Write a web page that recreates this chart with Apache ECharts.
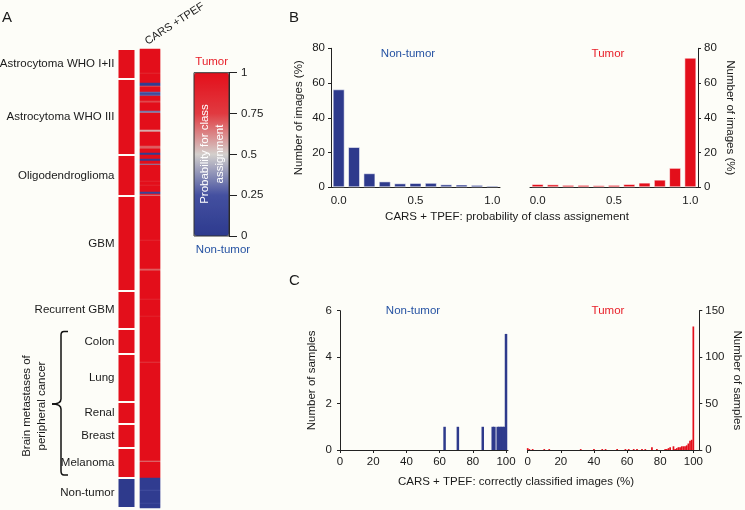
<!DOCTYPE html>
<html><head><meta charset="utf-8">
<script src="https://cdn.jsdelivr.net/npm/echarts@6/dist/echarts.min.js"></script>
<style>html,body{margin:0;padding:0;background:#fdfdf8;}#c{width:745px;height:510px;}</style>
</head><body><div id="c"></div>
<script>
// ---------- DATA ----------
const groupNames = ['Astrocytoma WHO I+II','Astrocytoma WHO III','Oligodendroglioma','GBM','Recurrent GBM','Colon','Lung','Renal','Breast','Melanoma','Non-tumor'];
const groupCounts = [30,76,41,95,38,25,48,22,24,30,30];
const groupIsTumor = [1,1,1,1,1,1,1,1,1,1,0];
// CARS+TPEF probability per image row: default 1 (tumor) / 0.03 (non-tumor), with these exceptions [row, probability]
const col2Exceptions = [[24,0.85],[34,0.06],[35,0.04],[36,0.06],[37,0.72],[43,0.3],[44,0.2],[45,0.22],[46,0.3],[52,0.72],[53,0.76],[62,0.32],[63,0.38],[81,0.55],[82,0.58],[97,0.7],[98,0.68],[99,0.72],[104,0.05],[105,0.05],[110,0.08],[111,0.06],[115,0.36],[132,0.86],[136,0.86],[143,0.12],[144,0.15],[146,0.62],[191,0.86],[220,0.68],[221,0.72],[250,0.86],[267,0.88],[313,0.76],[412,0.64],[441,0.22],[454,0.18]];
const probBins = ['0.0','0.1','0.2','0.3','0.4','0.5','0.6','0.7','0.8','0.9','1.0'];
const nonTumorB = [56.4,23.2,8.1,3.4,2.3,2.5,2.6,1.7,1.6,1.4,1.0];
const tumorB = [1.9,1.7,1.4,1.4,1.2,1.4,1.9,2.7,4.4,11.2,74.6];
const nonTumorC = [[63,1],[71,1],[86,1],[92,1],[93,1],[95,1],[96,1],[97,1],[98,1],[99,1],[100,5]];
const tumorC = [[0,2],[1,1],[3,1],[10,1],[13,1],[32,1],[40,1],[45,1],[47,1],[54,1],[59,1],[61,1],[64,1],[66,1],[69,1],[71,1],[75,3],[78,1],[83,1],[84,1],[85,2],[86,3],[88,4],[89,1],[90,2],[91,3],[92,3],[93,4],[94,4],[95,4],[96,5],[97,7],[98,10],[99,11],[100,133]];
const pctTicks = [0,20,40,60,80,100];

// ---------- BUILD ----------
const FONT = 'Liberation Sans, Arial, Helvetica, sans-serif';
const RED = '#e30f1b', BLUE = '#2e3a8c', BG = '#fdfdf8', INK = '#1a1a1a';
const TXT_BLUE = '#2653a3', TXT_RED = '#e8202a';

const exMap = {};
col2Exceptions.forEach(e => exMap[e[0]] = e[1]);
const rows = [], heat = [];
let r = 0;
groupCounts.forEach((n, g) => {
  for (let i = 0; i < n; i++) {
    rows.push(String(r));
    const def = groupIsTumor[g] ? 1 : 0.03;
    heat.push([0, r, exMap[r] !== undefined ? exMap[r] : def]);
    r++;
  }
});
const total = r;

const axisLineStyle = {show: true, onZero: false, lineStyle: {color: '#222', width: 1}};
const lbl = {fontFamily: FONT, fontSize: 11.5, color: INK};

const grids = [
  {left: 117.5, top: 49, width: 18, height: 459},          // 0 col1
  {left: 140, top: 49, width: 20, height: 459},            // 1 col2 heatmap
  {left: 194, top: 72.7, width: 35, height: 163.3, show: true, borderColor: '#333', borderWidth: 1, backgroundColor: 'transparent', z: 10}, // 2 colorbar axis
  {left: 331, top: 48.3, width: 169, height: 139},         // 3 B left
  {left: 530, top: 48.3, width: 168, height: 139},         // 4 B right
  {left: 340, top: 310.7, width: 168, height: 139.3},      // 5 C left
  {left: 527.7, top: 310.7, width: 171.6, height: 139.3}   // 6 C right
];

const xAxes = [
  {gridIndex: 0, type: 'category', data: [''], show: false},
  {gridIndex: 1, type: 'category', data: ['CARS +TPEF'], show: false},
  {gridIndex: 2, type: 'value', min: 0, max: 1, show: false},
  {gridIndex: 3, type: 'category', data: probBins, axisLine: axisLineStyle, axisTick: {show: false},
    axisLabel: Object.assign({interval: (i) => i % 5 === 0, margin: 8}, lbl)},
  {gridIndex: 4, type: 'category', data: probBins, axisLine: axisLineStyle, axisTick: {show: false},
    axisLabel: Object.assign({interval: (i) => i % 5 === 0, margin: 8}, lbl)},
  {gridIndex: 5, type: 'value', min: 0, max: 101.2, axisLine: axisLineStyle, splitLine: {show: false},
    axisTick: {show: true, length: 3, customValues: pctTicks, lineStyle: {color: '#222'}},
    axisLabel: Object.assign({customValues: pctTicks, margin: 6}, lbl)},
  {gridIndex: 6, type: 'value', min: 0, max: 103.6, axisLine: axisLineStyle, splitLine: {show: false},
    axisTick: {show: true, length: 3, customValues: pctTicks, lineStyle: {color: '#222'}},
    axisLabel: Object.assign({customValues: pctTicks, margin: 6}, lbl)}
];

const nameStyle = {fontFamily: FONT, fontSize: 11.5, color: INK};
const yAxes = [
  {gridIndex: 0, type: 'value', min: 0, max: total, inverse: true, show: false},
  {gridIndex: 1, type: 'category', data: rows, inverse: true, show: false},
  {gridIndex: 2, type: 'value', min: 0, max: 1, interval: 0.25, position: 'right', axisLine: axisLineStyle,
    splitLine: {show: false}, axisTick: {show: true, length: 8, lineStyle: {color: '#222'}},
    axisLabel: Object.assign({margin: 12}, lbl)},
  {gridIndex: 3, type: 'value', min: 0, max: 80, interval: 20, axisLine: axisLineStyle, splitLine: {show: false},
    axisTick: {show: true, length: 3, lineStyle: {color: '#222'}}, axisLabel: Object.assign({margin: 6}, lbl),
    name: 'Number of images (%)', nameLocation: 'middle', nameRotate: 90, nameGap: 26, nameTextStyle: nameStyle},
  {gridIndex: 4, type: 'value', min: 0, max: 80, interval: 20, position: 'right', axisLine: axisLineStyle, splitLine: {show: false},
    axisTick: {show: true, length: 3, lineStyle: {color: '#222'}}, axisLabel: Object.assign({margin: 6}, lbl),
    name: 'Number of images (%)', nameLocation: 'middle', nameRotate: -90, nameGap: 26, nameTextStyle: nameStyle},
  {gridIndex: 5, type: 'value', min: 0, max: 6, interval: 2, axisLine: axisLineStyle, splitLine: {show: false},
    axisTick: {show: true, length: 3, lineStyle: {color: '#222'}}, axisLabel: Object.assign({margin: 8}, lbl),
    name: 'Number of samples', nameLocation: 'middle', nameRotate: 90, nameGap: 22, nameTextStyle: nameStyle},
  {gridIndex: 6, type: 'value', min: 0, max: 150, interval: 50, position: 'right', axisLine: axisLineStyle, splitLine: {show: false},
    axisTick: {show: true, length: 3, lineStyle: {color: '#222'}}, axisLabel: Object.assign({margin: 6}, lbl),
    name: 'Number of samples', nameLocation: 'middle', nameRotate: -90, nameGap: 32, nameTextStyle: nameStyle}
];

const series = [];
groupNames.forEach((name, g) => {
  series.push({
    type: 'bar', name: name, stack: 'groups', xAxisIndex: 0, yAxisIndex: 0, barWidth: '100%',
    data: [groupCounts[g]], silent: true,
    itemStyle: {color: groupIsTumor[g] ? RED : BLUE, borderColor: BG, borderWidth: 1},
    label: {show: true, position: 'left', distance: 3, formatter: '{a}', fontFamily: FONT, fontSize: 11.5, color: INK}
  });
});
const heatIndex = series.length;
series.push({type: 'heatmap', xAxisIndex: 1, yAxisIndex: 1, data: heat, silent: true, itemStyle: {borderWidth: 0}});
series.push({type: 'line', xAxisIndex: 2, yAxisIndex: 2, data: [], silent: true});
const barEdge = {borderColor: 'rgba(255,255,255,0.55)', borderWidth: 1};
series.push({type: 'bar', xAxisIndex: 3, yAxisIndex: 3, data: nonTumorB, barWidth: 12, silent: true, itemStyle: Object.assign({color: BLUE}, barEdge)});
series.push({type: 'bar', xAxisIndex: 4, yAxisIndex: 4, data: tumorB, barWidth: 12, silent: true, itemStyle: Object.assign({color: RED}, barEdge)});
series.push({type: 'bar', xAxisIndex: 5, yAxisIndex: 5, data: nonTumorC, barWidth: 2.5, silent: true, itemStyle: {color: BLUE}});
series.push({type: 'bar', xAxisIndex: 6, yAxisIndex: 6, data: tumorC, barWidth: 1.7, silent: true, itemStyle: {color: RED}});

const T = (text, x, y, extra) => ({type: 'text', x: x, y: y, z: 100, silent: true,
  style: Object.assign({text: text, fontFamily: FONT, fontSize: 11.5, fill: INK, textAlign: 'center', textVerticalAlign: 'middle'}, extra || {})});
const braceStyle = {stroke: '#111', lineWidth: 1.5, fill: 'none'};
const L = (x1, y1, x2, y2) => ({type: 'line', z: 100, silent: true, shape: {x1, y1, x2, y2}, style: braceStyle});
const Q = (x1, y1, cx, cy, x2, y2) => ({type: 'bezierCurve', z: 100, silent: true, shape: {x1, y1, cpx1: cx, cpy1: cy, x2, y2}, style: braceStyle});

const graphic = [
  T('A', 2, 18, {fontSize: 15, textAlign: 'left'}),
  T('B', 289, 18, {fontSize: 15, textAlign: 'left'}),
  T('C', 289, 281, {fontSize: 15, textAlign: 'left'}),
  Object.assign(T('CARS +TPEF', 149, 47, {textAlign: 'left', textVerticalAlign: 'bottom', fontSize: 11}), {rotation: 33 * Math.PI / 180}),
  T('Tumor', 211.7, 61.7, {fill: TXT_RED}),
  T('Non-tumor', 223, 250, {fill: TXT_BLUE}),
  Object.assign(T('Probability for class\nassignment', 212.5, 154, {fill: '#ffffff', lineHeight: 15}), {rotation: Math.PI / 2}),
  Object.assign(T('Brain metastases of\nperipheral cancer', 34.5, 406, {lineHeight: 15}), {rotation: Math.PI / 2}),
  L(68, 331.5, 64, 331.5), Q(64, 331.5, 61, 331.5, 61, 335), L(61, 335, 61, 399),
  Q(61, 399, 61, 404, 52, 404), Q(52, 404, 61, 404, 61, 409), L(61, 409, 61, 471),
  Q(61, 471, 61, 475, 64, 475), L(64, 475, 68, 475),
  T('Non-tumor', 408, 54, {fill: TXT_BLUE}),
  T('Tumor', 608, 54, {fill: TXT_RED}),
  T('CARS + TPEF: probability of class assignement', 507, 217),
  T('Non-tumor', 413, 311, {fill: TXT_BLUE}),
  T('Tumor', 608, 311, {fill: TXT_RED}),
  T('CARS + TPEF: correctly classified images (%)', 516, 482)
];

const chart = echarts.init(document.getElementById('c'), null, {renderer: 'canvas'});
chart.setOption({
  backgroundColor: BG,
  animation: false,
  textStyle: {fontFamily: FONT},
  grid: grids, xAxis: xAxes, yAxis: yAxes, series: series,
  visualMap: {
    type: 'continuous', min: 0, max: 1, seriesIndex: heatIndex, dimension: 2,
    calculable: false, hoverLink: false, text: null, padding: 0,
    left: 194, top: 72.7, itemWidth: 35, itemHeight: 163.3, orient: 'vertical',
    inRange: {color: ['#2d3a8e', '#4450a0', '#d3cfcc', '#e13a40', '#e30f1b']}
  },
  graphic: graphic
});
</script></body></html>
